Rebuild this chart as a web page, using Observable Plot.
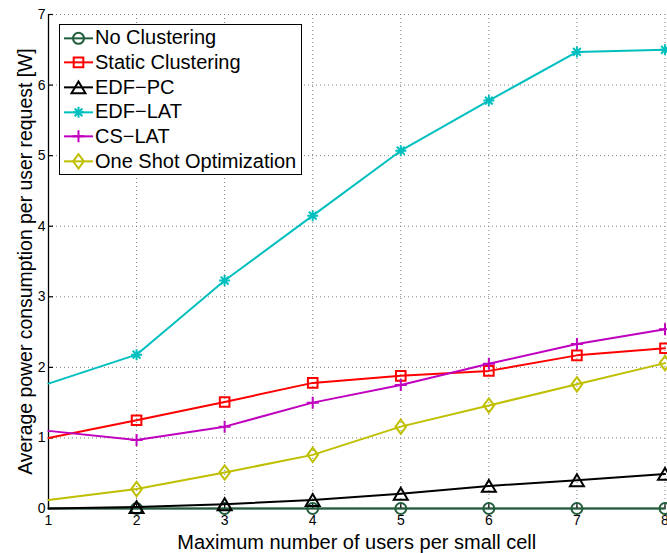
<!DOCTYPE html>
<html>
<head>
<meta charset="utf-8">
<script src="https://cdn.jsdelivr.net/npm/d3@7"></script>
<script src="https://cdn.jsdelivr.net/npm/@observablehq/plot@0.6"></script>
<style>
  html, body { margin: 0; padding: 0; background: #fff; }
  #chart { position: relative; width: 667px; height: 553px; overflow: hidden;
           font-family: "Liberation Sans", Arial, Helvetica, sans-serif; }
  #chart svg { display: block; }
  #legend { position: absolute; left: 58.5px; top: 24px; width: 241px; height: 148px;
            border: 1.3px solid #000; background: #fff; padding-top: 0.5px; }
  .row { display: flex; align-items: center; height: 24.7px; font-size: 20px; color: #000; white-space: nowrap; }
  .row svg { flex: none; margin-right: 0.5px; }
</style>
</head>
<body>
<div id="chart"><div id="legend"></div></div>
<script>
// x: maximum number of users per small cell
const users = [1, 2, 3, 4, 5, 6, 7, 8];

// average power consumption per user request [W]
const noClustering     = [0.00, 0.00, 0.00, 0.00, 0.00, 0.00, 0.00, 0.00];
const staticClustering = [1.00, 1.25, 1.51, 1.78, 1.88, 1.95, 2.17, 2.27];
const edfPc            = [0.00, 0.02, 0.06, 0.12, 0.21, 0.32, 0.40, 0.49];
const edfLat           = [1.77, 2.18, 3.23, 4.15, 5.07, 5.78, 6.47, 6.50];
const csLat            = [1.10, 0.97, 1.16, 1.50, 1.75, 2.05, 2.33, 2.54];
const oneShot          = [0.12, 0.275, 0.51, 0.76, 1.16, 1.46, 1.76, 2.06];

const seriesNames = ["No Clustering", "Static Clustering", "EDF\u2212PC", "EDF\u2212LAT", "CS\u2212LAT", "One Shot Optimization"];
const seriesValues = [noClustering, staticClustering, edfPc, edfLat, csLat, oneShot];

const xTicks = [1, 2, 3, 4, 5, 6, 7, 8];
const yTicks = [0, 1, 2, 3, 4, 5, 6, 7];
const xLabel = "Maximum number of users per small cell";
const yLabel = "Average power consumption per user request [W]";

// MATLAB-style line colours
const colors = ["#215e3c", "#ff0000", "#000000", "#00bfbf", "#bf00bf", "#bfbf00"];

// hollow marker shapes, scaled from the dot radius
const shape = (fn) => ({draw(ctx, size) { fn(ctx, Math.sqrt(size / Math.PI)); }});
const circle = shape((c, r) => { c.moveTo(r, 0); c.arc(0, 0, r, 0, 2 * Math.PI); });
const square = shape((c, r) => { c.moveTo(-r, -r); c.lineTo(r, -r); c.lineTo(r, r); c.lineTo(-r, r); c.closePath(); });
const triangle = shape((c, r) => { c.moveTo(0, -0.85 * r); c.lineTo(r, 0.85 * r); c.lineTo(-r, 0.85 * r); c.closePath(); });
const asterisk = shape((c, r) => {
  const d = r * Math.SQRT1_2;
  c.moveTo(-r, 0); c.lineTo(r, 0); c.moveTo(0, -r); c.lineTo(0, r);
  c.moveTo(-d, -d); c.lineTo(d, d); c.moveTo(-d, d); c.lineTo(d, -d);
});
const plus = shape((c, r) => { c.moveTo(-r, 0); c.lineTo(r, 0); c.moveTo(0, -r); c.lineTo(0, r); });
const diamond = shape((c, r) => { c.moveTo(0, -1.35 * r); c.lineTo(r, 0); c.lineTo(0, 1.35 * r); c.lineTo(-r, 0); c.closePath(); });
const symbols = [circle, square, triangle, asterisk, plus, diamond];
const markerR = [5.5, 4.8, 7, 5.5, 6, 5.3];

const tables = seriesValues.map((vals) => users.map((x, j) => ({x, y: vals[j]})));

const gridStyle = {stroke: "#808080", strokeOpacity: 1, strokeWidth: 1, strokeDasharray: "1,3"};

const marks = [
  Plot.gridX(xTicks.filter((t) => t > 1), gridStyle),
  Plot.gridY(yTicks.filter((t) => t > 0), gridStyle),
  Plot.ruleX([1], {stroke: "#000", strokeWidth: 1.3}),
  Plot.ruleY([0], {stroke: "#000", strokeWidth: 1.3}),
  Plot.axisX(xTicks, {tickSize: -5, tickPadding: 12, fontSize: 14, label: null, strokeWidth: 1.2, tickFormat: (d) => String(d)}),
  Plot.axisY(yTicks, {tickSize: -5, tickPadding: 8, fontSize: 14, label: null, strokeWidth: 1.2, tickFormat: (d) => String(d)})
];
tables.forEach((t, i) => {
  marks.push(Plot.line(t, {x: "x", y: "y", stroke: colors[i], strokeWidth: 2}));
  marks.push(Plot.dot(t.filter((d) => d.x > 1), {x: "x", y: "y", symbol: symbols[i], r: markerR[i],
    stroke: colors[i], fill: "none", strokeWidth: 2}));
});
marks.push(Plot.text([xLabel], {text: (d) => d, frameAnchor: "bottom", textAnchor: "middle", dy: 40, fontSize: 20}));
marks.push(Plot.text([yLabel], {text: (d) => d, frameAnchor: "left", textAnchor: "middle", dx: -23, rotate: -90, fontSize: 19.4}));

const chart = Plot.plot({
  width: 667,
  height: 553,
  marginLeft: 48,
  marginRight: 2.5,
  marginTop: 14,
  marginBottom: 45,
  x: {domain: [1, 8]},
  y: {domain: [0, 7]},
  style: {fontFamily: "'Liberation Sans', Arial, Helvetica, sans-serif", fontSize: "14px", background: "#fff", color: "#000"},
  marks
});
document.getElementById("chart").prepend(chart);

// legend box
const legend = d3.select("#legend");
seriesNames.forEach((name, i) => {
  const row = legend.append("div").attr("class", "row");
  const svg = row.append("svg").attr("width", 35).attr("height", 24.7);
  svg.append("line").attr("x1", 4).attr("x2", 33).attr("y1", 12.35).attr("y2", 12.35)
    .attr("stroke", colors[i]).attr("stroke-width", 2);
  svg.append("path")
    .attr("d", d3.symbol(symbols[i], Math.PI * markerR[i] * markerR[i])())
    .attr("transform", "translate(18.5,12.35)")
    .attr("fill", "none").attr("stroke", colors[i]).attr("stroke-width", 2);
  row.append("span").text(name);
});
</script>
</body>
</html>
